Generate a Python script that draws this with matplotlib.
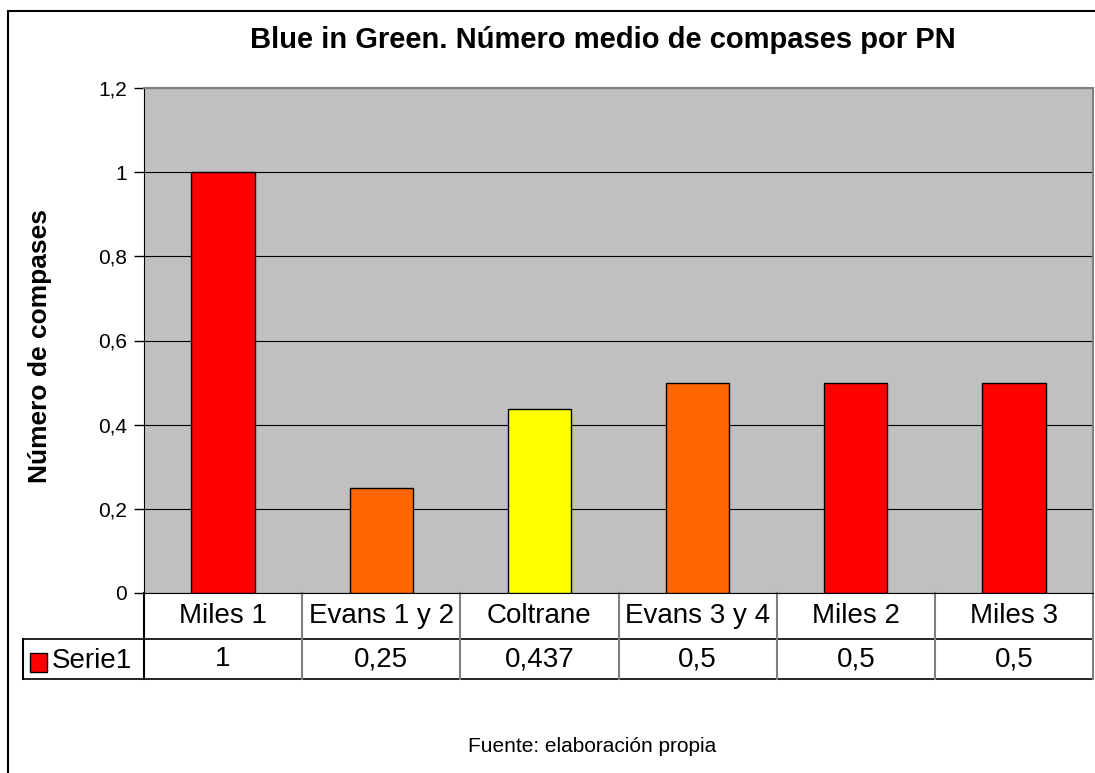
import matplotlib
matplotlib.use("Agg")
import matplotlib.pyplot as plt
from matplotlib.transforms import blended_transform_factory
from matplotlib.patches import Rectangle
from matplotlib.lines import Line2D

plt.rcParams['font.family'] = ['Liberation Sans', 'DejaVu Sans']

categories = ["Miles 1", "Evans 1 y 2", "Coltrane", "Evans 3 y 4", "Miles 2", "Miles 3"]
values = [1, 0.25, 0.437, 0.5, 0.5, 0.5]
value_labels = ["1", "0,25", "0,437", "0,5", "0,5", "0,5"]
bar_colors = ["#FF0000", "#FF6600", "#FFFF00", "#FF6600", "#FF0000", "#FF0000"]
yticks = [0, 0.2, 0.4, 0.6, 0.8, 1.0, 1.2]
ytick_labels = ["0", "0,2", "0,4", "0,6", "0,8", "1", "1,2"]
series_name = "Serie1"

W, H = 1095, 773
fig = plt.figure(figsize=(W / 100, H / 100), dpi=100)

def fx(px):
    return px / W

def fy(py):
    return 1 - py / H

# outer chart border (runs off the right/bottom edge)
fig.patches.append(Rectangle((fx(8), fy(H + 20)), 1.2, fy(11) - fy(H + 20),
                             transform=fig.transFigure, fill=False,
                             edgecolor="black", linewidth=1.5))

left, right, top, bottom = 144, 1093, 88, 593
ax = fig.add_axes([fx(left), fy(bottom), fx(right - left), (bottom - top) / H])
ax.set_facecolor("#C0C0C0")

x = list(range(len(categories)))
ax.bar(x, values, width=0.4, color=bar_colors, edgecolor="black", linewidth=1, zorder=3)
ax.set_xlim(-0.5, len(categories) - 0.5)
ax.set_ylim(0, 1.2)
ax.set_yticks(yticks)
ax.set_yticklabels(ytick_labels, fontsize=15)
ax.yaxis.grid(True, color="black", linewidth=0.8, zorder=1)
ax.set_axisbelow(True)
ax.tick_params(axis="y", length=7, width=1, pad=5, color="black")
ax.set_xticks([])
for s in ["top", "right"]:
    ax.spines[s].set_color("#808080")
    ax.spines[s].set_linewidth(1.5)
ax.spines["left"].set_color("black")
ax.spines["bottom"].set_color("black")

# data table under the plot
ah = bottom - top
r1 = -46 / ah
r2 = -86 / ah
tr = blended_transform_factory(ax.transData, ax.transAxes)
leg_x = -0.5 - (left - 23) / ((right - left) / len(categories))

def hline(x0, x1, y, color):
    ax.add_line(Line2D([x0, x1], [y, y], transform=tr, color=color,
                       linewidth=1.2, clip_on=False))

def vline(xv, y0, y1, color):
    ax.add_line(Line2D([xv, xv], [y0, y1], transform=tr, color=color,
                       linewidth=1.5, clip_on=False))

hline(leg_x, len(categories) - 0.5, r1, "black")
hline(leg_x, len(categories) - 0.5, r2, "black")
vline(-0.5, 0, r2, "black")
vline(leg_x, r1, r2, "black")
for i in range(1, len(categories) + 1):
    vline(i - 0.5, 0, r2, "#808080")

for i, (c, v) in enumerate(zip(categories, value_labels)):
    ax.text(i, r1 / 2, c, transform=tr, ha="center", va="center", fontsize=20)
    ax.text(i, (r1 + r2) / 2, v, transform=tr, ha="center", va="center", fontsize=20)

fig.patches.append(Rectangle((fx(30), fy(672)), fx(17), 19 / H, transform=fig.transFigure,
                             facecolor="#FF0000", edgecolor="black", linewidth=1))
fig.text(fx(52), fy(661), series_name, ha="left", va="center", fontsize=20)

fig.text(fx(603), fy(40), "Blue in Green. Número medio de compases por PN",
         ha="center", va="center", fontsize=21, fontweight="bold")
fig.text(fx(40), fy(346), "Número de compases", rotation=90,
         ha="center", va="center", fontsize=19, fontweight="bold")
fig.text(fx(592), fy(747), "Fuente: elaboración propia",
         ha="center", va="center", fontsize=15)

fig.savefig("out.png", dpi=100, facecolor="white")
